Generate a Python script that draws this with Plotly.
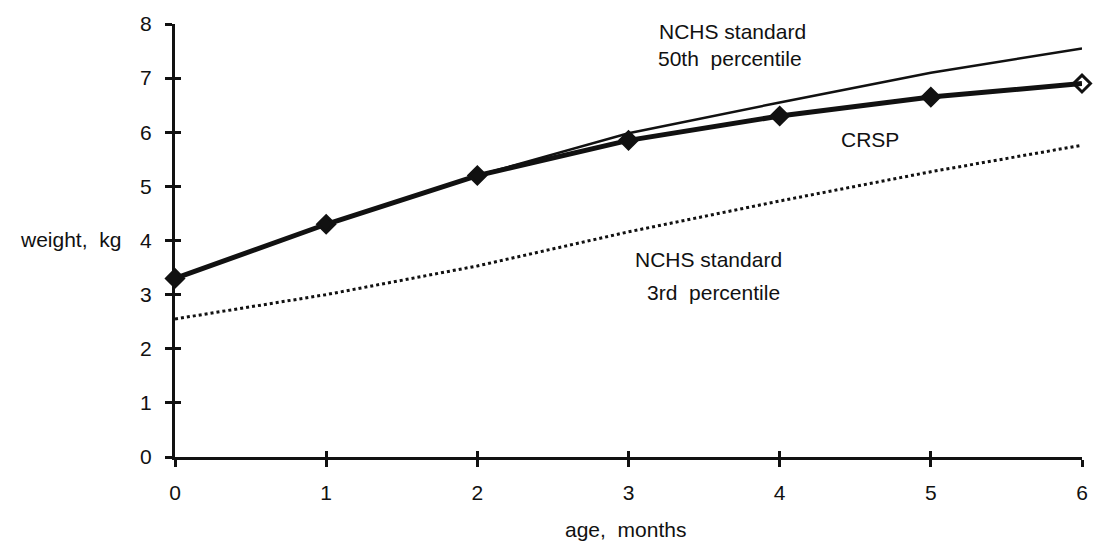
import plotly.graph_objects as go

# Infant weight by age (months), kg
age_months = [0, 1, 2, 3, 4, 5, 6]
crsp_weight = [3.3, 4.3, 5.2, 5.85, 6.3, 6.65, 6.9]
nchs_p50 = [3.3, 4.3, 5.2, 5.98, 6.55, 7.1, 7.55]
nchs_p3 = [2.55, 3.0, 3.53, 4.16, 4.73, 5.27, 5.76]

x_ticks = [0, 1, 2, 3, 4, 5, 6]
y_ticks = [0, 1, 2, 3, 4, 5, 6, 7, 8]

FONT = "Liberation Sans, Arial, sans-serif"
INK = "#111111"

fig = go.Figure()

# NCHS 3rd percentile: dotted
fig.add_trace(go.Scatter(
    x=age_months, y=nchs_p3, mode="lines",
    line=dict(color=INK, width=3, dash="dot"),
    cliponaxis=False, showlegend=False,
))

# NCHS 50th percentile: thin solid
fig.add_trace(go.Scatter(
    x=age_months, y=nchs_p50, mode="lines",
    line=dict(color=INK, width=2.5),
    cliponaxis=False, showlegend=False,
))

# CRSP: heavy line with diamond markers
fig.add_trace(go.Scatter(
    x=age_months, y=crsp_weight, mode="lines+markers",
    line=dict(color=INK, width=5),
    marker=dict(
        symbol=["diamond", "diamond", "diamond", "diamond", "diamond", "diamond", "diamond-open"],
        size=13, color=INK, line=dict(color=INK, width=3),
    ),
    cliponaxis=False, showlegend=False,
))

# Overlay axes so the tick marks cross the axis lines
fig.add_trace(go.Scatter(x=age_months, y=nchs_p3, xaxis="x2", yaxis="y2",
                         mode="lines", line=dict(width=0), hoverinfo="skip",
                         showlegend=False))

axis_common = dict(
    showgrid=False, zeroline=False, showline=True,
    linecolor=INK, linewidth=3, ticks="outside", ticklen=7,
    tickwidth=2.5, tickcolor=INK,
    tickfont=dict(family=FONT, size=21, color=INK),
)

fig.update_layout(
    width=1100, height=552,
    margin=dict(l=175, r=15, t=18, b=95),
    paper_bgcolor="white", plot_bgcolor="white",
    xaxis=dict(range=[0, 6], tickvals=x_ticks, ticklabelstandoff=8, **axis_common),
    yaxis=dict(range=[0, 8], tickvals=y_ticks, ticklabelstandoff=9, **axis_common),
    xaxis2=dict(range=[0, 6], overlaying="x", anchor="y2", tickvals=x_ticks,
                showticklabels=False, showgrid=False, zeroline=False,
                showline=False, ticks="inside", ticklen=6, tickwidth=2.5,
                tickcolor=INK, side="bottom"),
    yaxis2=dict(range=[0, 8], overlaying="y", anchor="x2", tickvals=y_ticks,
                showticklabels=False, showgrid=False, zeroline=False,
                showline=False, ticks="inside", ticklen=6, tickwidth=2.5,
                tickcolor=INK, side="left"),
    font=dict(family=FONT, size=21, color=INK),
)

label_font = dict(family=FONT, size=21, color=INK)
annotations = [
    dict(x=3.69, y=7.87, text="NCHS standard"),
    dict(x=3.67, y=7.36, text="50th  percentile"),
    dict(x=4.6, y=5.87, text="CRSP"),
    dict(x=3.53, y=3.64, text="NCHS standard"),
    dict(x=3.56, y=3.04, text="3rd  percentile"),
]
for a in annotations:
    fig.add_annotation(xref="x", yref="y", showarrow=False, font=label_font,
                       xanchor="center", yanchor="middle", **a)

fig.add_annotation(xref="paper", yref="y", x=0, y=4.02, xanchor="right",
                   xshift=-52, showarrow=False, text="weight,  kg", font=label_font)
fig.add_annotation(xref="x", yref="paper", x=2.98, y=0, yanchor="middle",
                   yshift=-72, showarrow=False, text="age,  months", font=label_font)

fig.write_html("out.html")
